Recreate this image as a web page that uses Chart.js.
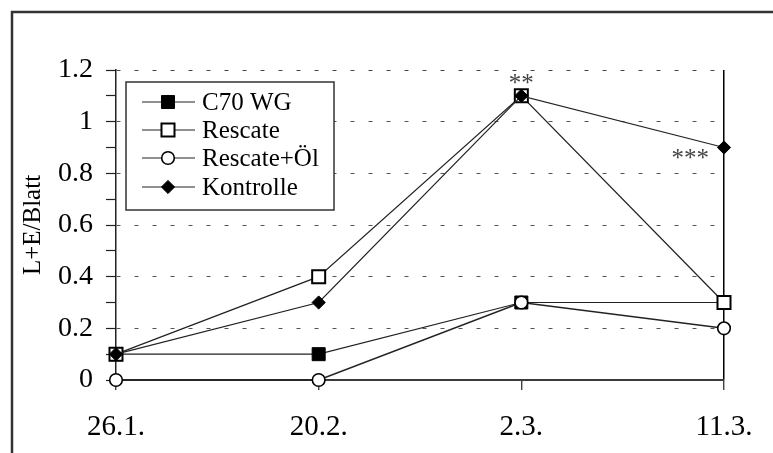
<!DOCTYPE html>
<html>
<head>
<meta charset="utf-8">
<script src="https://cdn.jsdelivr.net/npm/chart.js@4/dist/chart.umd.min.js"></script>
<style>
  html, body { margin: 0; padding: 0; background: #fff; }
  #wrap { width: 773px; height: 453px; position: relative; }
</style>
</head>
<body>
<div id="wrap"><canvas id="c" width="773" height="453"></canvas></div>
<script>
// ---- data ----
const categories = ['26.1.', '20.2.', '2.3.', '11.3.'];
const seriesNames = ['C70 WG', 'Rescate', 'Rescate+Öl', 'Kontrolle'];
const c70wg = [0.1, 0.1, 0.3, 0.3];
const rescate = [0.1, 0.4, 1.1, 0.3];
const rescateOel = [0, 0, 0.3, 0.2];
const kontrolle = [0.1, 0.3, 1.1, 0.9];
const yTickLabels = ['0', '0.2', '0.4', '0.6', '0.8', '1', '1.2'];
const yAxisTitle = 'L+E/Blatt';
const annotationTexts = ['**', '***'];
const annotationCategories = ['2.3.', '11.3.'];
const annotationValues = [1.1, 0.9];

const SERIF = '"Liberation Serif", "Times New Roman", serif';
const LINE = '#222';

const styles = [
  { pointStyle: 'rect', pointRadius: 9.2, bg: '#000', bw: 1, order: 3 },
  { pointStyle: 'rect', pointRadius: 9.2, bg: '#fff', bw: 2, order: 2 },
  { pointStyle: 'circle', pointRadius: 6.3, bg: '#fff', bw: 1.6, order: 1 },
  { pointStyle: 'rectRot', pointRadius: 6.6, bg: '#000', bw: 1, order: 0 }
];
const allSeries = [c70wg, rescate, rescateOel, kontrolle];

const datasets = allSeries.map((d, i) => ({
  label: seriesNames[i],
  data: d,
  borderColor: LINE,
  borderWidth: i === 2 ? 1.5 : 1.2,
  backgroundColor: styles[i].bg,
  pointStyle: styles[i].pointStyle,
  pointRadius: styles[i].pointRadius,
  pointHoverRadius: styles[i].pointRadius,
  pointBackgroundColor: styles[i].bg,
  pointBorderColor: '#000',
  pointBorderWidth: styles[i].bw,
  tension: 0,
  fill: false,
  clip: false,
  order: styles[i].order
}));

const framePlugin = {
  id: 'frame',
  beforeDraw(chart) {
    const ctx = chart.ctx;
    ctx.save();
    ctx.fillStyle = '#fff';
    ctx.fillRect(0, 0, chart.width, chart.height);
    ctx.strokeStyle = '#333';
    ctx.lineWidth = 2.5;
    ctx.strokeRect(12, 12, chart.width + 20, chart.height + 20);
    ctx.restore();
  }
};

const annotationPlugin = {
  id: 'stars',
  afterDatasetsDraw(chart) {
    const ctx = chart.ctx;
    const xs = chart.scales.x, ys = chart.scales.y;
    const offsets = [{ dx: 0, dy: -5, align: 'center' }, { dx: -15, dy: 18, align: 'right' }];
    ctx.save();
    ctx.fillStyle = '#444';
    ctx.font = '25px ' + SERIF;
    ctx.textBaseline = 'alphabetic';
    annotationTexts.forEach((t, i) => {
      const x = xs.getPixelForValue(categories.indexOf(annotationCategories[i]));
      const y = ys.getPixelForValue(annotationValues[i]);
      ctx.textAlign = offsets[i].align;
      ctx.fillText(t, x + offsets[i].dx, y + offsets[i].dy);
    });
    ctx.restore();
  }
};

const legendPlugin = {
  id: 'boxLegend',
  afterDatasetsDraw(chart) {
    const ctx = chart.ctx;
    const bx = 126, by = 82, bw = 208, bh = 128;
    ctx.save();
    ctx.fillStyle = '#fff';
    ctx.fillRect(bx, by, bw, bh);
    ctx.strokeStyle = '#333';
    ctx.lineWidth = 1.5;
    ctx.strokeRect(bx, by, bw, bh);
    const rowY = [102, 130, 158, 187];
    chart.data.datasets.forEach((ds, i) => {
      const y = rowY[i];
      ctx.strokeStyle = LINE;
      ctx.lineWidth = 1.2;
      ctx.beginPath();
      ctx.moveTo(142, y);
      ctx.lineTo(195, y);
      ctx.stroke();
      ctx.fillStyle = ds.pointBackgroundColor;
      ctx.strokeStyle = ds.pointBorderColor;
      ctx.lineWidth = ds.pointBorderWidth;
      Chart.helpers.drawPoint(ctx, {
        pointStyle: ds.pointStyle,
        radius: ds.pointRadius,
        rotation: 0,
        borderWidth: ds.pointBorderWidth
      }, 168, y);
      ctx.fillStyle = '#000';
      ctx.font = '25px ' + SERIF;
      ctx.textAlign = 'left';
      ctx.textBaseline = 'middle';
      ctx.fillText(ds.label, 202, y + 1);
    });
    ctx.restore();
  }
};

new Chart(document.getElementById('c'), {
  type: 'line',
  data: { labels: categories, datasets },
  options: {
    responsive: false,
    animation: false,
    devicePixelRatio: 1,
    layout: { padding: { top: 70, right: 49, left: 0, bottom: 0 } },
    plugins: { legend: { display: false }, tooltip: { enabled: false } },
    scales: {
      x: {
        offset: false,
        afterFit(s) { s.height = 73; },
        border: { color: '#3a3a3a', width: 2 },
        grid: {
          drawOnChartArea: true,
          color: (c) => (c.index === categories.length - 1 ? '#000' : 'rgba(0,0,0,0)'),
          lineWidth: 1.5,
          tickColor: '#222',
          tickWidth: 1.2,
          tickLength: 10
        },
        ticks: {
          color: '#000',
          font: { family: SERIF, size: 29 },
          padding: 20,
          maxRotation: 0,
          autoSkip: false
        }
      },
      y: {
        min: 0,
        max: 1.2,
        afterFit(s) { s.width = 116; },
        border: { color: '#222', width: 1.5, dash: [4, 14] },
        grid: {
          color: (c) => {
            const i = c.index;
            if (i === 0) return 'rgba(0,0,0,0)';
            if (i % 2 === 1) return 'rgba(0,0,0,0)';
            return i === 12 ? '#444' : '#555';
          },
          lineWidth: 1,
          tickColor: '#222',
          tickWidth: 1.2,
          tickLength: 10,
          tickBorderDash: []
        },
        ticks: {
          stepSize: 0.1,
          autoSkip: false,
          color: '#000',
          font: { family: SERIF, size: 28 },
          padding: 13,
          callback: (v, i) => (i % 2 === 0 ? yTickLabels[i / 2] : '')
        },
        title: {
          display: true,
          text: yAxisTitle,
          color: '#000',
          font: { family: SERIF, size: 25 },
          padding: { top: 18, bottom: 0 }
        }
      }
    }
  },
  plugins: [framePlugin, legendPlugin, annotationPlugin]
});
</script>
</body>
</html>
